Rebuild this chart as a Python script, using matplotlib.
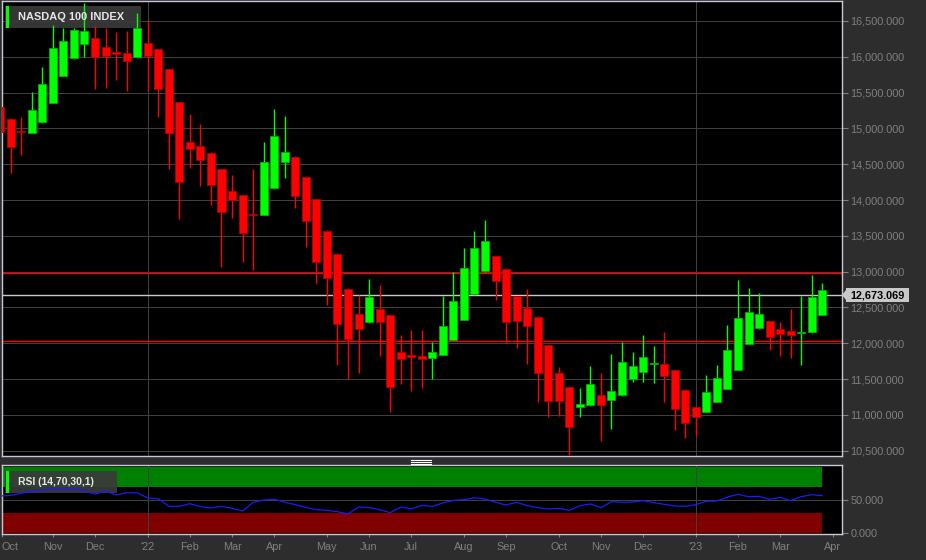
import matplotlib
matplotlib.use('Agg')
import matplotlib.pyplot as plt
import numpy as np
import pandas as pd
from matplotlib.patches import Rectangle, Polygon
from matplotlib.lines import Line2D

plt.rcParams['font.family'] = ['Liberation Sans', 'DejaVu Sans']

# weekly candles (week ending Friday)
weeks = pd.date_range('2021-10-01', periods=79, freq='W-FRI')

opens = [15299, 15131, 14960, 14936, 15090, 15355, 15732, 15983, 16179, 16263,
         16137, 16067, 16053, 15997, 16193, 16109, 15830, 15369, 14810, 14755,
         14657, 14433, 14126, 14070, 13805, 13791, 14168, 14531, 14601, 14322,
         14015, 13568, 13247, 12758, 12409, 12297, 12478, 12395, 11878, 11836,
         11822, 11794, 11836, 12046, 12325, 12688, 13009, 13219, 13037, 12660,
         12492, 12367, 11976, 11585, 11389, 11110, 11138, 11278, 11208, 11278,
         11501, 11599, 11705, 11711, 11627, 11348, 11110, 11040, 11180, 11361,
         11627, 11990, 12213, 12311, 12199, 12171, 12145, 12157, 12395]
highs = [15397, 15145, 15160, 15509, 15858, 16444, 16402, 16400, 16751, 16430,
         16402, 16346, 16360, 16612, 16514, 16115, 15835, 15375, 15201, 15062,
         14665, 14440, 14350, 14075, 14433, 14810, 15271, 15173, 14610, 14330,
         14020, 13575, 13255, 12765, 12674, 12897, 12814, 12400, 12116, 12185,
         12185, 12018, 12660, 12995, 13330, 13568, 13721, 13225, 13045, 12665,
         12758, 12375, 11980, 11669, 11395, 11375, 11683, 11585, 11850, 12018,
         11878, 12116, 11962, 12157, 11630, 11355, 11115, 11557, 11697, 12255,
         12884, 12772, 12702, 12315, 12297, 12478, 12660, 12953, 12842]
lows = [14559, 14378, 14629, 14930, 15080, 15350, 15725, 15970, 15997, 15550,
        15564, 15676, 15522, 15990, 15522, 15160, 14433, 13735, 14447, 14196,
        13931, 13065, 13749, 13135, 13023, 13785, 14160, 14308, 13889, 13344,
        12842, 12534, 11697, 11501, 11585, 12290, 11822, 11041, 11431, 11334,
        11375, 11501, 11830, 12040, 12320, 12680, 13000, 12604, 12004, 11934,
        11711, 11180, 10971, 10985, 10440, 10971, 11130, 10635, 10803, 11270,
        11459, 11459, 11445, 11180, 10789, 10677, 10705, 11035, 11175, 11355,
        11620, 11985, 12205, 11906, 11822, 11794, 11697, 12150, 12390]
closes = [14950, 14740, 14950, 15257, 15620, 16123, 16221, 16374, 16360, 15997,
          16011, 16039, 15941, 16402, 16011, 15550, 14936, 14252, 14713, 14559,
          14210, 13833, 14001, 13540, 13791, 14531, 14894, 14671, 14056, 13707,
          13135, 12912, 12269, 12060, 12199, 12646, 12297, 11389, 11780, 11808,
          11780, 11878, 12241, 12590, 13051, 13330, 13428, 12870, 12297, 12311,
          12241, 11585, 11194, 11194, 10831, 11152, 11431, 11138, 11333, 11739,
          11683, 11808, 11711, 11544, 11082, 10886, 10971, 11320, 11515, 11906,
          12353, 12437, 12409, 12088, 12130, 12116, 12157, 12646, 12744]

rsi = [56, 57, 60, 64, 65, 66, 67, 67, 64, 59,
       63.6, 57.6, 61, 61, 53, 52, 40.4, 40.4, 44.4, 39.9,
       37.9, 40.4, 37.4, 33.3, 46.5, 50, 51, 46.5, 42.9, 38.9,
       35.4, 34.3, 32.3, 28.8, 39.4, 38.4, 35.4, 30.8, 39.4, 36.4,
       41.9, 40.4, 45.5, 49.5, 50.5, 53.5, 51.5, 46.5, 42.4, 46.5,
       41.4, 38.4, 36.4, 37.4, 34.3, 41.4, 44, 38.4, 47.5, 46.5,
       47, 49, 46, 43.4, 41, 40.4, 42.9, 48, 48.5, 54.5,
       58.6, 55, 55.6, 51, 54, 49, 55, 58, 56.6]

last_price = 12673.069
upper_line = 12975
lower_line = 12025

W, H = 926, 560
bg = '#2d2d2d'
grid_c = '#404040'
tick_c = '#808080'
spine_c = '#c8c8d8'
px1 = 0.72  # one pixel at 100 dpi

def fx(x):
    return x / W

def fy(y):
    return 1 - y / H

fig = plt.figure(figsize=(9.26, 5.6), dpi=100, facecolor=bg)
ax = fig.add_axes([fx(2), fy(456), fx(842) - fx(2), fy(1) - fy(456)], facecolor='black')
ax2 = fig.add_axes([fx(2), fy(534), fx(842) - fx(2), fy(465) - fy(534)], facecolor='black')

x = np.arange(len(opens))
o = np.array(opens, float)
c = np.array(closes, float)
up = c >= o
bottoms = np.minimum(o, c)
heights = np.maximum(np.abs(c - o), 15)
cols = np.where(up, '#00ff00', '#ff0000')
edges = np.where(up, '#00b000', '#b00000')

ax.vlines(x, lows, highs, colors=cols, linewidth=1, zorder=3)
ax.bar(x, heights, bottom=bottoms, width=0.76, color=cols, edgecolor=edges,
       linewidth=0.6, zorder=4)

xlim = (0.175, 79.87)
ax.set_xlim(*xlim)
ax.set_ylim(10426, 16779)

ax.axhline(upper_line, color='#ff0000', linewidth=1.0, zorder=2.2, snap=True)
ax.axhline(lower_line, color='#ff0000', linewidth=1.0, zorder=2.2, snap=True)
ax.axhline(last_price, color='#c8c8c8', linewidth=1.0, zorder=2.2, snap=True)

# year separators
year_idx = [i for i in range(1, len(weeks)) if weeks[i].year != weeks[i - 1].year]
for a in (ax, ax2):
    for i in year_idx:
        a.axvline(i, color=grid_c, linewidth=px1, zorder=1.5, snap=True)

yt = np.arange(10500, 16501, 500)
ax.set_yticks(yt)
ax.set_yticklabels(['{:,.3f}'.format(v) for v in yt])
ax.yaxis.tick_right()
ax.yaxis.grid(True, color=grid_c, linewidth=px1, zorder=0, snap=True)
ax.set_axisbelow(True)
ax.tick_params(axis='y', colors=tick_c, labelcolor=tick_c, length=4, pad=2,
               labelsize=7.8)
ax.tick_params(axis='x', bottom=False, labelbottom=False)
for s in ax.spines.values():
    s.set_color(spine_c)
    s.set_linewidth(1)

# RSI panel
xb = [xlim[0] - 1, 78]
ax2.fill_between(xb, 70, 100, color='#008000', linewidth=0, zorder=1)
ax2.fill_between(xb, 0, 30, color='#800000', linewidth=0, zorder=1)
ax2.axhline(50, color=grid_c, linewidth=px1, zorder=1.6, snap=True)
ax2.plot(x, rsi, color='#1a1aff', linewidth=0.9, zorder=3)
ax2.set_xlim(*xlim)
ax2.set_ylim(-1.5, 103)
ax2.yaxis.tick_right()
ax2.set_yticks([0, 50])
ax2.set_yticklabels(['0.000', '50.000'])
ax2.tick_params(axis='y', colors=tick_c, labelcolor=tick_c, length=4, pad=2,
                labelsize=7.8)
for s in ax2.spines.values():
    s.set_color(spine_c)
    s.set_linewidth(1)

# month labels at the first week of each month
ticks, labels = [], []
for i in range(len(weeks) + 1):
    d = weeks[0] + pd.Timedelta(weeks=i)
    prev = d - pd.Timedelta(weeks=1)
    if i == 0 or d.month != prev.month:
        ticks.append(max(i, xlim[0]))
        labels.append("'" + d.strftime('%y') if d.month == 1 else d.strftime('%b'))
ax2.set_xticks(ticks)
ax2.set_xticklabels(labels)
ax2.tick_params(axis='x', colors=tick_c, labelcolor=tick_c, length=2, pad=4,
                labelsize=7.8)
ax2.get_xticklabels()[0].set_horizontalalignment('left')

# label boxes, drawn under the marks of their panel
def label_box(a, x0, y0, x1, y1, text, size):
    a.add_artist(Rectangle((fx(x0), fy(y1)), fx(x1) - fx(x0), fy(y0) - fy(y1),
                           transform=fig.transFigure, facecolor='#3a3a3a',
                           alpha=0.92, edgecolor='none', zorder=2.5))
    a.add_artist(Rectangle((fx(6), fy(y1)), fx(9) - fx(6), fy(y0) - fy(y1),
                           transform=fig.transFigure, facecolor='#00ff00',
                           edgecolor='none', zorder=2.6))
    a.text(fx(18), fy((y0 + y1) / 2), text, transform=fig.transFigure,
           color='#e6e6e6', fontsize=size, fontweight='bold', va='center',
           ha='left', zorder=6)

label_box(ax, 5, 6, 141, 28, 'NASDAQ 100 INDEX', 7.9)
label_box(ax2, 5, 471, 117, 493, 'RSI (14,70,30,1)', 7.5)

# last price tag
pts = [(842, 295), (846, 290), (846, 288), (909, 288), (909, 302), (846, 302), (846, 300)]
fig.add_artist(Polygon([(fx(a), fy(b)) for a, b in pts], closed=True,
                       transform=fig.transFigure, facecolor='#c8c8c8',
                       edgecolor='none', zorder=5))
fig.text(fx(877.5), fy(295), '{:,.3f}'.format(last_price), color='black',
         fontsize=7.8, fontweight='bold', ha='center', va='center', zorder=6)

# panel splitter handle
for yy in (459.5, 461.5, 463.5):
    fig.add_artist(Line2D([fx(411), fx(431)], [fy(yy), fy(yy)], color='white',
                          linewidth=0.8, transform=fig.transFigure, zorder=5))

fig.savefig('out.png', dpi=100, facecolor=bg)
